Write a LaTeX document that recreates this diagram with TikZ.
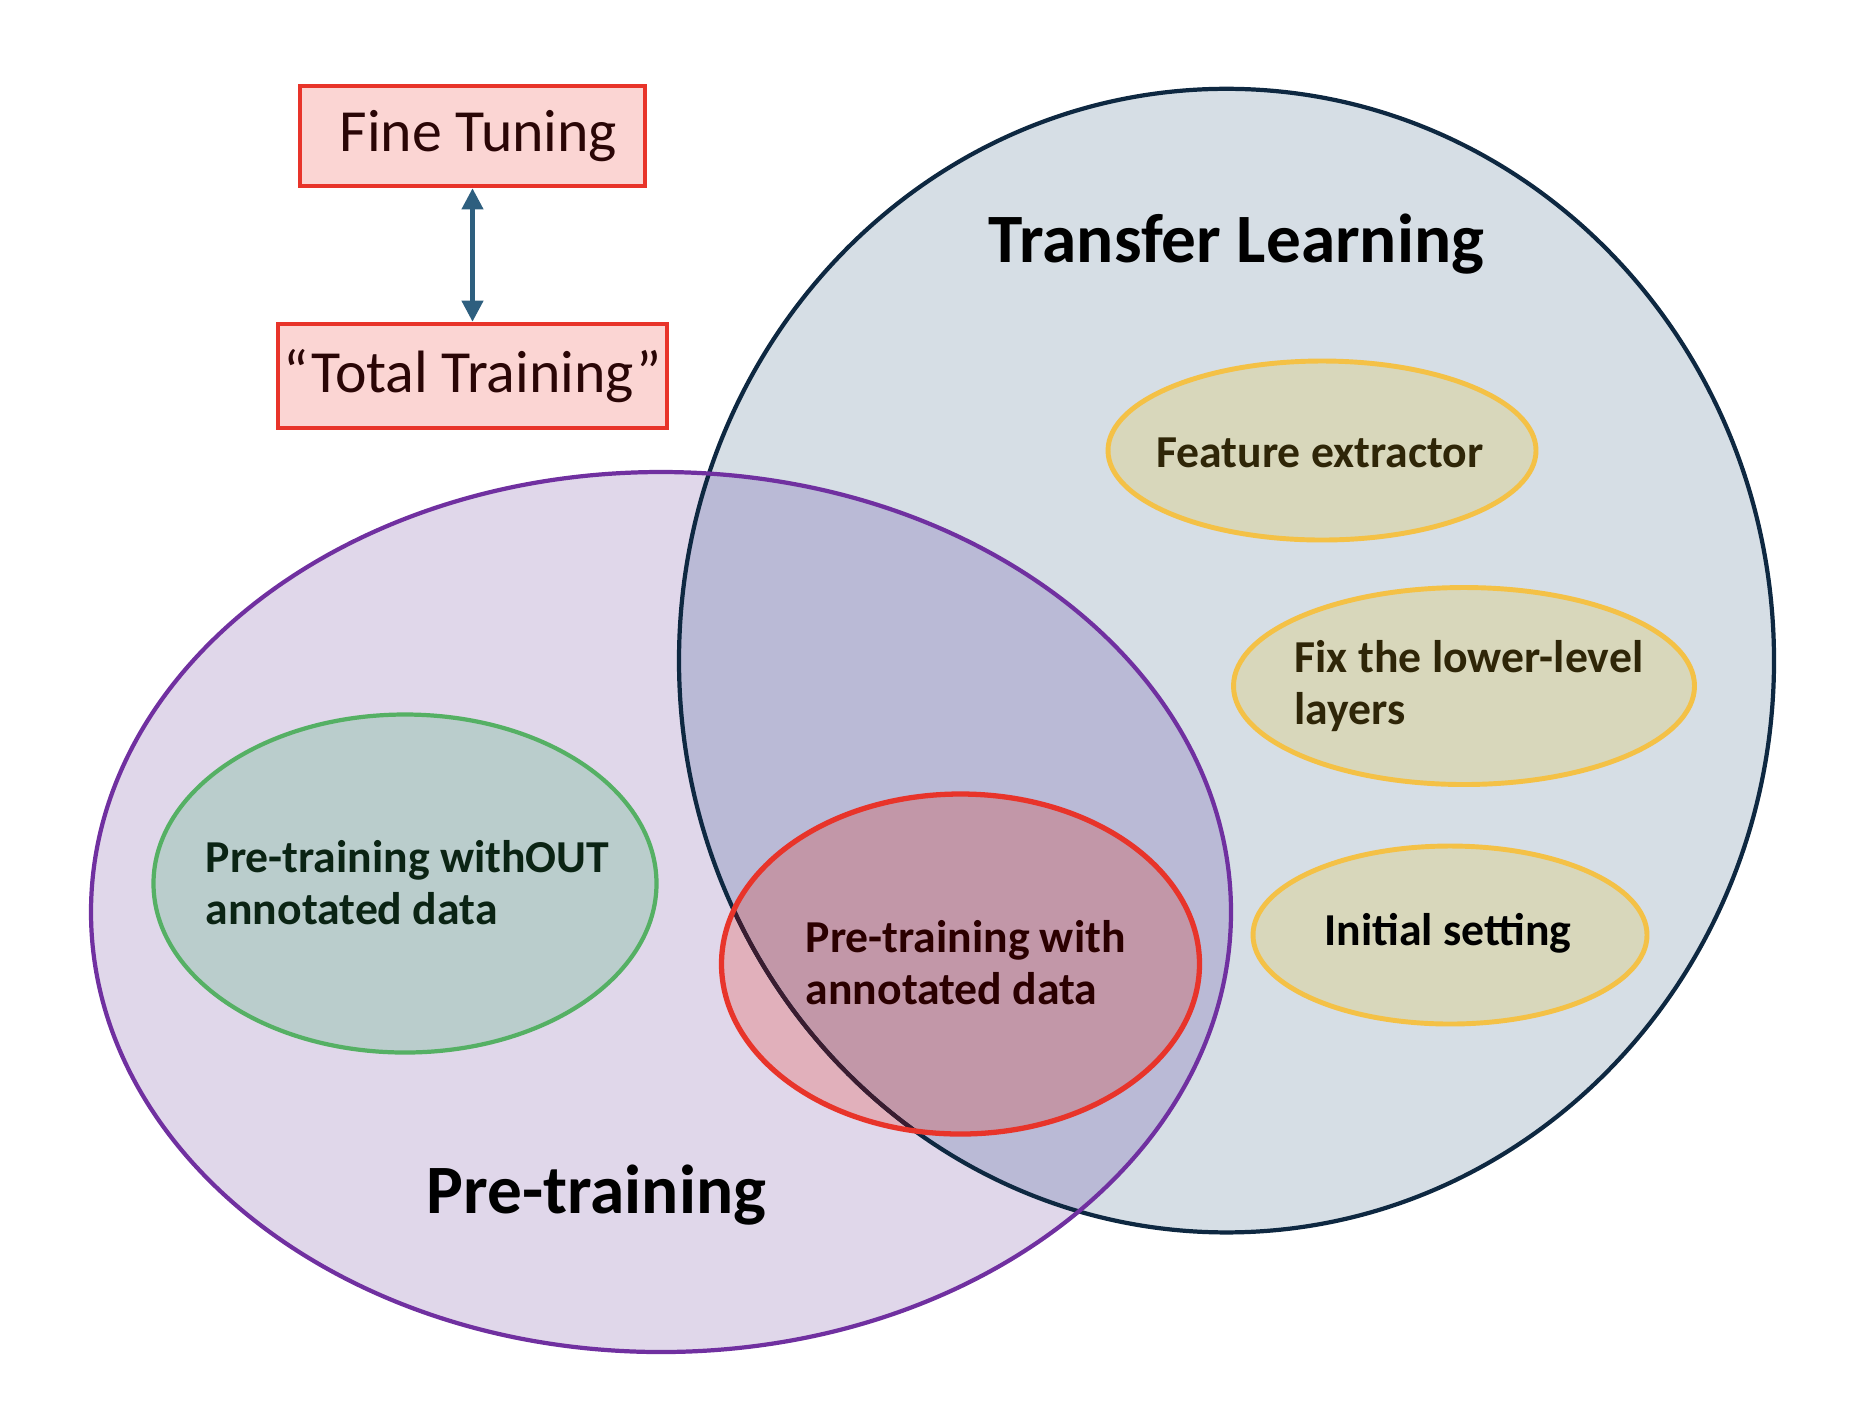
\documentclass[tikz,border=0pt]{standalone}
\usepackage{fontspec}
\setmainfont{Carlito}
\usetikzlibrary{arrows.meta, calc}

\definecolor{tlfill}{HTML}{D6DEE5}
\definecolor{ptfill}{HTML}{E0D7EA}
\definecolor{ovfill}{HTML}{BABAD6}
\definecolor{grnfill}{HTML}{BACDCC}
\definecolor{redfillA}{HTML}{E1B0BB}
\definecolor{redfillB}{HTML}{C297A8}
\definecolor{yelfill}{HTML}{D8D7BB}
\definecolor{navy}{HTML}{0E2841}
\definecolor{navytint}{HTML}{3A1C30}
\definecolor{purp}{HTML}{7030A0}
\definecolor{grnline}{HTML}{55B064}
\definecolor{redline}{HTML}{E8342A}
\definecolor{yelline}{HTML}{F4C146}
\definecolor{boxfill}{HTML}{FBD5D3}
\definecolor{arrblue}{HTML}{2E5F7F}
\definecolor{boxtext}{HTML}{2A0606}
\definecolor{grntext}{HTML}{0B2414}
\definecolor{redtext}{HTML}{2B0000}
\definecolor{yeltext}{HTML}{2F2608}

\tikzset{
    tbox/.style={draw=redline, line width=1.3pt, fill=boxfill, text=boxtext,
        font=\fontsize{17}{20}\selectfont, inner sep=0pt},
    bigtitle/.style={font=\bfseries\fontsize{19.7}{24}\selectfont, text=black, inner sep=0pt},
    ltext/.style={font=\bfseries\fontsize{13}{14.8}\selectfont, align=left, inner sep=0pt}
}

\begin{document}
\begin{tikzpicture}[x=0.01cm, y=-0.01cm]
    \useasboundingbox (0,0) rectangle (1858,1408);

    % centres of the sets
    \coordinate (tl) at (1226.5,660.6);
    \coordinate (pt) at (661,912);
    \coordinate (nodata) at (405,883.5);
    \coordinate (withdata) at (960.5,964);
    \coordinate (featx) at (1322,450.5);
    \coordinate (fixlow) at (1464,686);
    \coordinate (init) at (1450,935);

    % fills
    \fill[tlfill] (tl) ellipse [x radius=547.5, y radius=571.8];
    \fill[ptfill] (pt) ellipse [x radius=570, y radius=440];
    \begin{scope}
        \clip (tl) ellipse [x radius=547.5, y radius=571.8];
        \fill[ovfill] (pt) ellipse [x radius=570, y radius=440];
    \end{scope}
    \fill[grnfill] (nodata) ellipse [x radius=251.5, y radius=169];
    \fill[redfillA] (withdata) ellipse [x radius=239, y radius=170];
    \begin{scope}
        \clip (tl) ellipse [x radius=547.5, y radius=571.8];
        \fill[redfillB] (withdata) ellipse [x radius=239, y radius=170];
    \end{scope}

    % borders
    \draw[navy, line width=1.2pt] (tl) ellipse [x radius=547.5, y radius=571.8];
    \begin{scope}
        \clip (withdata) ellipse [x radius=239, y radius=170];
        \draw[navytint, line width=1.2pt] (tl) ellipse [x radius=547.5, y radius=571.8];
    \end{scope}
    \draw[purp, line width=1.2pt] (pt) ellipse [x radius=570, y radius=440];
    \draw[grnline, line width=1.2pt] (nodata) ellipse [x radius=251.5, y radius=169];
    \draw[redline, line width=1.5pt] (withdata) ellipse [x radius=239, y radius=170];

    \foreach \c/\rx/\ry in {featx/214/89.5, fixlow/230.5/98.5, init/197/89} {
        \draw[yelline, line width=1.4pt, fill=yelfill] (\c) ellipse [x radius=\rx, y radius=\ry];
    }

    % labels
    \node[bigtitle] (tltitle) at (1236.5,244) {Transfer Learning};
    \node[bigtitle] (pttitle) at (596.5,1195) {Pre-training};
    \node[ltext, text=grntext] (nodatalbl) at (407.5,883) {Pre-training withOUT\\annotated data};
    \node[ltext, text=redtext] (withdatalbl) at (965.7,963) {Pre-training with\\annotated data};
    \node[ltext, text=yeltext] (featxlbl) at (1320,453) {Feature extractor};
    \node[ltext, text=yeltext] (fixlowlbl) at (1469,686.5) {Fix the lower-level\\layers};
    \node[ltext, text=black] (initlbl) at (1448,933) {Initial setting};

    % boxes
    \node[tbox, minimum width=3.45cm, minimum height=1.00cm] (fine) at (472.5,136) {\hspace*{0.12cm}Fine Tuning};
    \node[tbox, minimum width=3.89cm, minimum height=1.04cm] (total) at (472.5,376) {“Total Training”};
    \draw[{Triangle[length=6pt,width=6pt]}-{Triangle[length=6pt,width=6pt]}, arrblue, line width=1.2pt] (fine) -- (total);
\end{tikzpicture}
\end{document}
